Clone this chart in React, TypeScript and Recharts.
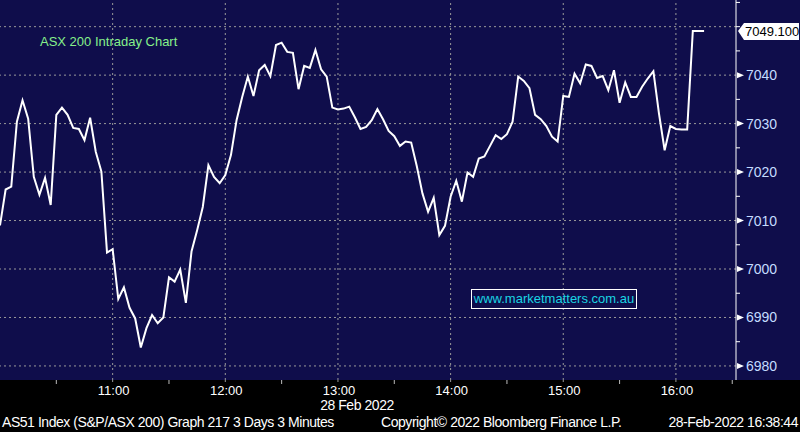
import React from 'react';
import { LineChart, Line, XAxis, YAxis, ReferenceLine } from 'recharts';

// AS51 3-minute closes, 28 Feb 2022, from 10:00
const closes = [
    7009, 7016.4, 7017, 7030.4, 7034.8, 7031, 7019, 7015.3, 7018.8, 7013.2,
    7031.8, 7033.3, 7031.8, 7029.1, 7028.9, 7026.6, 7031.2, 7024.2, 7020.1, 7003.4,
    7004.1, 6993.8, 6996.2, 6992, 6989.8, 6983.8, 6987.8, 6990.5, 6988.8, 6990,
    6998.3, 6997.4, 6999.9, 6993, 7003.6, 7008, 7012.8, 7021.4, 7019, 7017.7,
    7019.4, 7023.5, 7030.7, 7035.5, 7039.7, 7035.7, 7041, 7042.1, 7039.8, 7046.2,
    7046.7, 7044.8, 7044.6, 7037.1, 7041.9, 7041.5, 7045.2, 7041.2, 7039.7, 7033.3,
    7032.9, 7033.1, 7033.5, 7031.3, 7028.9, 7029.3, 7030.7, 7033, 7030.9, 7028.5,
    7027.4, 7025.4, 7026.3, 7026.1, 7021.2, 7015.6, 7011.8, 7014.7, 7007, 7008.9,
    7014.9, 7018.2, 7013.9, 7019.9, 7019, 7022.8, 7023.2, 7025.4, 7027.6, 7026.8,
    7027.8, 7030.4, 7039.7, 7038.8, 7037.3, 7031.8, 7030.9, 7029.5, 7027.3, 7026.3,
    7035.7, 7035.5, 7040.3, 7038.3, 7042.2, 7041.9, 7039.4, 7039.8, 7036.9, 7041,
    7034.3, 7038.5, 7035.5, 7035.5, 7037.6, 7039.3, 7040.8, 7032, 7024.5, 7029.5,
    7028.9, 7028.8, 7028.8, 7049.1, 7049.1, 7049.1,
];
const barMinutes = 3;
const lastPrice = 7049.1;

const hourTicks = [60, 120, 180, 240, 300, 360];
const hourLabels = ['11:00', '12:00', '13:00', '14:00', '15:00', '16:00'];
const halfHourTicks = [30, 90, 150, 210, 270, 330, 390];
const priceGrid = [6980, 6990, 7000, 7010, 7020, 7030, 7040, 7050];
const priceLabels = [6980, 6990, 7000, 7010, 7020, 7030, 7040]; // 7050 sits under the last-price tag
const priceTicks = [6980, 6985, 6990, 6995, 7000, 7005, 7010, 7015, 7020, 7025, 7030, 7035, 7040, 7045, 7050, 7055];

const data = closes.map((v, i) => ({ t: i * barMinutes, price: v }));

const NAVY = '#0f0d4b';
const GRID = '#9a9a9a';
const NARROW = "'Liberation Sans Narrow', 'Arial Narrow', 'Liberation Sans', sans-serif";
const ARIAL = "'Liberation Sans', Arial, sans-serif";

function XTick(props: any) {
    const { x, y, payload } = props;
    const idx = hourTicks.indexOf(payload.value);
    if (idx < 0) {
        return <line x1={x} x2={x} y1={y} y2={y + 4} stroke="#bbbbbb" strokeWidth={1} />;
    }
    return (
        <g>
            <line x1={x} x2={x} y1={y} y2={y + 2} stroke="#9a9a9a" strokeWidth={1} />
            <text x={x + 1} y={y + 15} textAnchor="middle" fill="#ffffff" fontSize={13} fontFamily={ARIAL}>
                {hourLabels[idx]}
            </text>
        </g>
    );
}

function YTick(props: any) {
    const { x, y, payload } = props;
    if (priceLabels.indexOf(payload.value) < 0) {
        return <line x1={x} x2={x + 4} y1={y} y2={y} stroke="#ffffff" strokeWidth={1} />;
    }
    return (
        <g>
            <polygon points={`${x + 1},${y - 3} ${x + 8},${y} ${x + 1},${y + 3}`} fill="#ffffff" />
            <text x={x + 10} y={y + 5} fill="#c4dcff" fontSize={14} fontFamily={ARIAL}>
                {payload.value}
            </text>
        </g>
    );
}

function PriceTag(props: any) {
    const vb = props.viewBox || {};
    const x = vb.x + vb.width;
    const y = vb.y;
    return (
        <g>
            <polygon
                points={`${x + 2},${y} ${x + 8},${y - 8} ${x + 63},${y - 8} ${x + 63},${y + 9} ${x + 8},${y + 9}`}
                fill="#ffffff"
            />
            <text x={x + 9} y={y + 5} fill="#000000" fontSize={13} fontFamily={ARIAL}>
                {lastPrice.toFixed(3)}
            </text>
        </g>
    );
}

const footStyle: React.CSSProperties = {
    position: 'absolute', top: 414, color: '#ffffff', fontSize: 14,
    fontFamily: NARROW, whiteSpace: 'nowrap', letterSpacing: '-0.45px',
};

export default function App() {
    return (
        <div style={{ position: 'absolute', left: 0, top: 0, width: 800, height: 432, background: '#000000', overflow: 'hidden' }}>
            <div style={{ position: 'absolute', left: 0, top: 0, width: 800, height: 380, background: NAVY }} />
            <div style={{ position: 'absolute', left: 0, top: 0 }}>
                <LineChart width={800} height={432} data={data} margin={{ top: 0, right: 0, left: 0, bottom: 0 }}>
                    <XAxis
                        dataKey="t"
                        type="number"
                        domain={[0, 392]}
                        ticks={[...halfHourTicks, ...hourTicks].sort((a, b) => a - b)}
                        interval={0}
                        height={52}
                        tickLine={false}
                        axisLine={false}
                        tickSize={0}
                        tickMargin={0}
                        tick={<XTick />}
                    />
                    <YAxis
                        orientation="right"
                        width={64}
                        domain={[6977.1, 7055.5]}
                        ticks={priceTicks}
                        interval={0}
                        tickLine={false}
                        tickSize={0}
                        tickMargin={0}
                        axisLine={{ stroke: '#ffffff', strokeWidth: 1 }}
                        tick={<YTick />}
                    />
                    {priceGrid.map((p) => (
                        <ReferenceLine key={'h' + p} y={p} stroke={GRID} strokeWidth={1} strokeDasharray="2 3" />
                    ))}
                    {hourTicks.map((t) => (
                        <ReferenceLine key={'v' + t} x={t} stroke={GRID} strokeWidth={1} strokeDasharray="2 3" />
                    ))}
                    <Line
                        type="linear"
                        dataKey="price"
                        stroke="#ffffff"
                        strokeWidth={2}
                        dot={false}
                        activeDot={false}
                        isAnimationActive={false}
                    />
                    <ReferenceLine y={lastPrice} stroke="none" label={<PriceTag />} />
                </LineChart>
            </div>
            <div style={{ position: 'absolute', left: 40, top: 34, color: '#86f08a', fontSize: 13, fontFamily: ARIAL }}>
                ASX 200 Intraday Chart
            </div>
            <div
                style={{
                    position: 'absolute', left: 471, top: 289, width: 164, height: 18,
                    border: '1px solid #ffffff', color: '#1ad4e2', fontSize: 13, lineHeight: '18px',
                    textAlign: 'center', fontFamily: ARIAL, whiteSpace: 'nowrap',
                }}
            >
                www.marketmatters.com.au
            </div>
            <div style={{ ...footStyle, left: 0, width: 714, top: 397, textAlign: 'center' }}>
                28 Feb 2022
            </div>
            <div style={{ ...footStyle, left: 2 }}>
                AS51 Index (S&amp;P/ASX 200) Graph 217 3 Days 3 Minutes
            </div>
            <div style={{ ...footStyle, left: 381 }}>
                Copyright© 2022 Bloomberg Finance L.P.
            </div>
            <div style={{ ...footStyle, right: 2 }}>
                28-Feb-2022 16:38:44
            </div>
        </div>
    );
}
